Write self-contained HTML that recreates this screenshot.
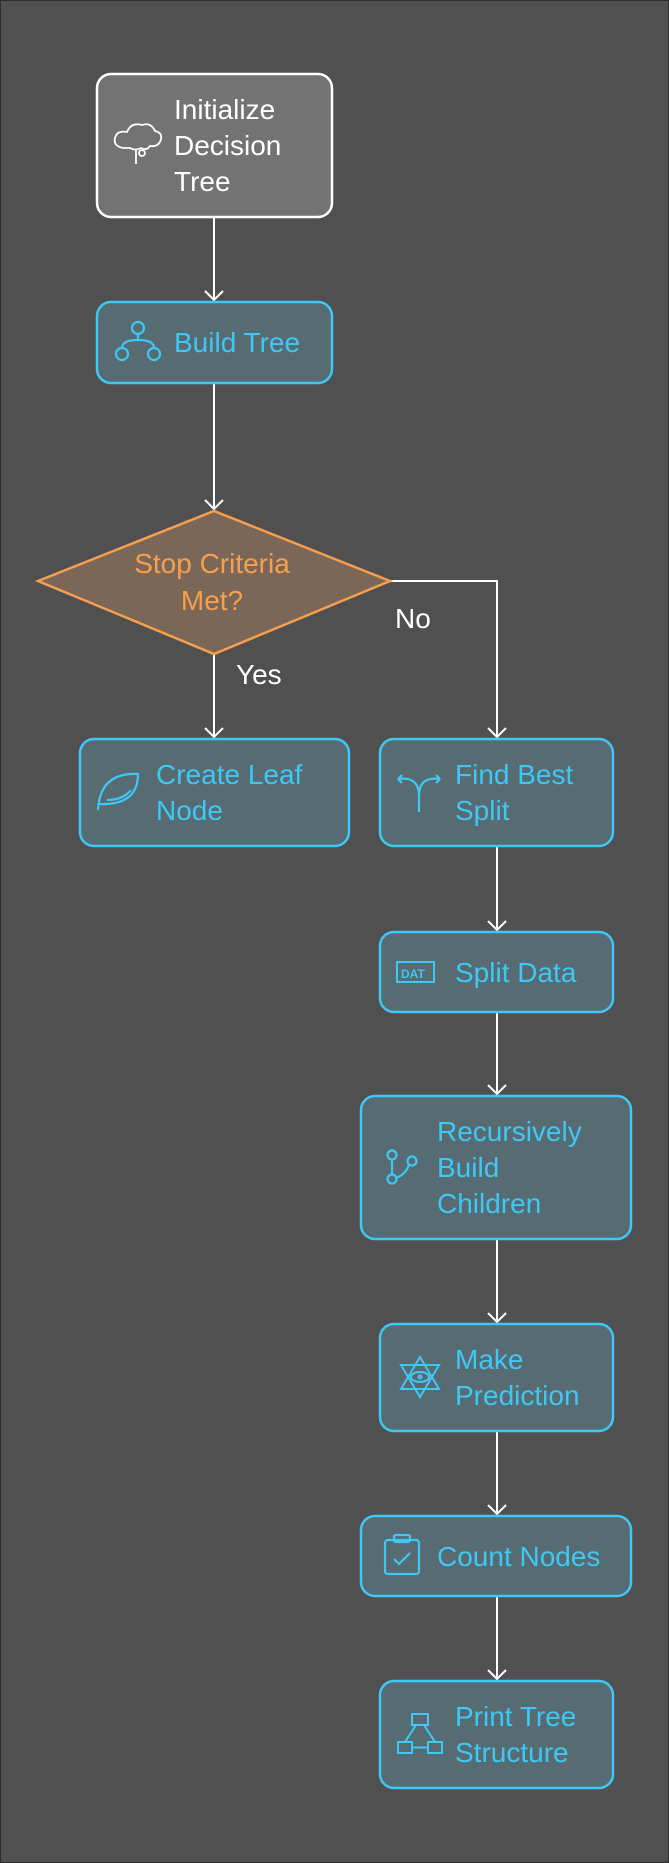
<!DOCTYPE html>
<html><head><meta charset="utf-8"><style>
html,body{margin:0;padding:0;background:#505050;}
svg{display:block;}
text{font-family:"Liberation Sans",sans-serif;font-size:28px;}
</style></head><body>
<svg width="669" height="1863" viewBox="0 0 669 1863" xmlns="http://www.w3.org/2000/svg">
<rect x="0.5" y="0.5" width="668" height="1862" fill="#505050" stroke="#2e2e2e"/>
<g stroke="#ffffff" stroke-width="2" fill="none">
<line x1="214" y1="217" x2="214" y2="300"/><polyline points="205,291 214,300 223,291"/>
<line x1="214" y1="383" x2="214" y2="509"/><polyline points="205,500 214,509 223,500"/>
<line x1="214" y1="654" x2="214" y2="737"/><polyline points="205,728 214,737 223,728"/>
<polyline points="390,581 497,581 497,737"/><polyline points="488,728 497,737 506,728"/>
<line x1="497" y1="846" x2="497" y2="930"/><polyline points="488,921 497,930 506,921"/>
<line x1="497" y1="1012" x2="497" y2="1094"/><polyline points="488,1085 497,1094 506,1085"/>
<line x1="497" y1="1239" x2="497" y2="1322"/><polyline points="488,1313 497,1322 506,1313"/>
<line x1="497" y1="1431" x2="497" y2="1514"/><polyline points="488,1505 497,1514 506,1505"/>
<line x1="497" y1="1596" x2="497" y2="1679"/><polyline points="488,1670 497,1679 506,1670"/>
</g>
<rect x="97" y="74" width="235" height="143" rx="14" fill="#737373" stroke="#fff" stroke-width="2.5"/>
<g fill="#fff"><text x="174" y="119">Initialize</text><text x="174" y="155">Decision</text><text x="174" y="191">Tree</text></g>
<g stroke="#fff" stroke-width="1.8" fill="none" transform="translate(137,145)"><path d="M-14,3 q-10,-2 -8,-10 q2,-8 12,-6 q4,-10 15,-7 q9,-3 13,6 q9,2 5,11 q-3,5 -10,4 q-3,5 -9,2 q-6,3 -11,0 z"/><line x1="-1" y1="5" x2="-1" y2="19"/><circle cx="5" cy="8" r="3"/></g>
<g fill="#566b72" stroke="#3ec8f5" stroke-width="2.5">
<rect x="97" y="302" width="235" height="81" rx="14"/>
<rect x="80" y="739" width="269" height="107" rx="14"/>
<rect x="380" y="739" width="233" height="107" rx="14"/>
<rect x="380" y="932" width="233" height="80" rx="14"/>
<rect x="361" y="1096" width="270" height="143" rx="14"/>
<rect x="380" y="1324" width="233" height="107" rx="14"/>
<rect x="361" y="1516" width="270" height="80" rx="14"/>
<rect x="380" y="1681" width="233" height="107" rx="14"/>
</g>
<polygon points="38,581 214,511 390,581 214,654" fill="#7a6757" stroke="#f6a04d" stroke-width="2.5"/>
<g fill="#f6a04d" text-anchor="middle"><text x="212" y="573">Stop Criteria</text><text x="212" y="610">Met?</text></g>
<g fill="#fff"><text x="395" y="628">No</text><text x="236" y="684">Yes</text></g>
<g fill="#3ec8f5">
<text x="174" y="352">Build Tree</text>
<text x="156" y="784">Create Leaf</text><text x="156" y="820">Node</text>
<text x="455" y="784">Find Best</text><text x="455" y="820">Split</text>
<text x="455" y="982">Split Data</text>
<text x="437" y="1141">Recursively</text><text x="437" y="1177">Build</text><text x="437" y="1213">Children</text>
<text x="455" y="1369">Make</text><text x="455" y="1405">Prediction</text>
<text x="437" y="1566">Count Nodes</text>
<text x="455" y="1726">Print Tree</text><text x="455" y="1762">Structure</text>
</g>
<g stroke="#3ec8f5" stroke-width="2.2" fill="none">
<g transform="translate(138,342)"><circle cx="0" cy="-14" r="6"/><circle cx="-16" cy="12" r="6"/><circle cx="16" cy="12" r="6"/><path d="M0,-8 v6 M-16,6 q0,-8 16,-8 q16,0 16,8"/></g>
<g transform="translate(117,792)"><path d="M-19,18 q2,-38 40,-36 q0,32 -40,30 M-10,8 q16,0 24,-10"/></g>
<g transform="translate(419,792)"><path d="M-21,-13 l4,-4 M-21,-13 l4,4 M-21,-13 q21,-3 21,17 v16 M21,-13 l-4,-4 M21,-13 l-4,4 M21,-13 q-21,-3 -21,17"/></g>
<rect x="397" y="962" width="37" height="20" stroke-width="2"/>
<g transform="translate(398,1167)"><circle cx="-6" cy="-12" r="4.5"/><circle cx="-6" cy="12" r="4.5"/><circle cx="14" cy="-6" r="4.5"/><path d="M-6,-7 v14 M11,-2 q-4,10 -13,13"/></g>
<g transform="translate(420,1377)" stroke-width="2"><path d="M0,-20 l-19,32 h38 z M0,20 l-19,-32 h38 z"/><ellipse cx="0" cy="0" rx="9" ry="5"/><circle cx="0" cy="0" r="1.5"/></g>
<g transform="translate(402,1556)"><rect x="-17" y="-16" width="34" height="34" rx="3"/><rect x="-8" y="-21" width="16" height="7" rx="2"/><path d="M-8,3 l5,5 l11,-11"/></g>
<g transform="translate(420,1734)" stroke-width="2"><rect x="-8" y="-20" width="16" height="11"/><rect x="-22" y="8" width="14" height="11"/><rect x="8" y="8" width="14" height="11"/><path d="M-4,-9 l-11,17 M4,-9 l11,17 M-8,13.5 h16"/></g>
</g>
<text x="401" y="978" fill="#3ec8f5" style="font-size:12px;font-weight:bold">DAT</text>
</svg>
</body></html>
